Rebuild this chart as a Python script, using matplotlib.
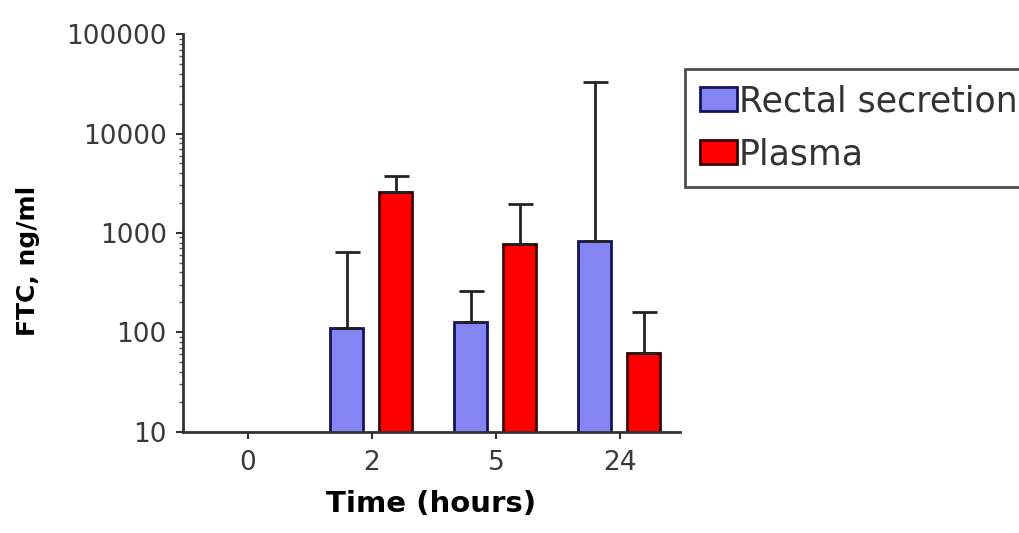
import numpy as np
import matplotlib
matplotlib.use("Agg")
import matplotlib.pyplot as plt

# values (log scale)
times = ['0', '2', '5', '24']
rectal = [np.nan, 110, 128, 820]
rectal_upper = [np.nan, 650, 263, 32800]
plasma = [np.nan, 2560, 766, 62]
plasma_upper = [np.nan, 3700, 1940, 160]

fig = plt.figure(figsize=(10.19, 5.33), dpi=100)
ax = fig.add_axes([0.18, 0.19, 0.487, 0.746])

x = np.arange(len(times))
w = 0.27
r_err = [np.zeros(len(x)), np.array(rectal_upper) - np.array(rectal)]
p_err = [np.zeros(len(x)), np.array(plasma_upper) - np.array(plasma)]

ax.bar(x - 0.205, rectal, w, color='#8484f2', edgecolor='#14145a', linewidth=2,
       yerr=r_err, capsize=9, error_kw=dict(ecolor='#222222', elinewidth=2, capthick=2),
       label='Rectal secretion')
ax.bar(x + 0.19, plasma, w, color='#ff0000', edgecolor='#3a0000', linewidth=2,
       yerr=p_err, capsize=9, error_kw=dict(ecolor='#222222', elinewidth=2, capthick=2),
       label='Plasma')

ax.set_yscale('log')
ax.set_ylim(10, 100000)
ax.set_xlim(-0.52, 3.48)
ax.set_xticks(x)
ax.set_xticklabels(times)
ax.set_yticks([10, 100, 1000, 10000, 100000])
ax.set_yticklabels(['10', '100', '1000', '10000', '100000'])

for s in ['top', 'right']:
    ax.spines[s].set_visible(False)
for s in ['left', 'bottom']:
    ax.spines[s].set_linewidth(2)
    ax.spines[s].set_color('#333333')

ax.tick_params(axis='both', which='major', direction='out', length=5, width=1.5,
               colors='#333333', labelsize=19, labelcolor='#3a3a3a')
ax.tick_params(axis='y', which='minor', direction='out', length=3, width=1, colors='#555555')
ax.tick_params(axis='x', pad=8)
ax.tick_params(axis='y', pad=7)

ax.set_xlabel('Time (hours)', fontsize=21, fontweight='bold', labelpad=10)
ax.set_ylabel('FTC, ng/ml', fontsize=18, fontweight='bold')
ax.yaxis.set_label_coords(-0.29, 0.43)

leg = ax.legend(loc='upper left', bbox_to_anchor=(0.672, 0.871, 0.4, 0.0),
                bbox_transform=fig.transFigure, mode='expand',
                fontsize=25, frameon=True, fancybox=False, handlelength=1.05, handleheight=0.7,
                handletextpad=0.05, borderpad=0.45, labelspacing=0.55, borderaxespad=0)
leg.get_frame().set_edgecolor('#222222')
leg.get_frame().set_linewidth(2)
for t in leg.get_texts():
    t.set_color('#333333')

fig.savefig('out.png', dpi=100)
